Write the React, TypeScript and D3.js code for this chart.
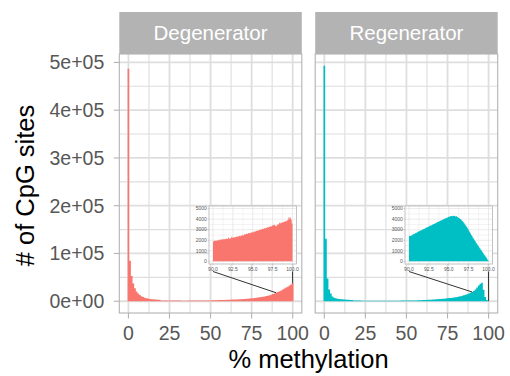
import * as d3 from "d3";

// histogram counts, 1% bins centred on 0..100
const binCenters = d3.range(0, 101);

const degeneratorCounts = [
  487000, 84500, 53000, 37000, 27000, 20500, 16000, 13000, 10500, 8800,
  7400, 6300, 5500, 4900, 4400, 4000, 3700, 3400, 3200, 3000,
  1750, 1650, 1560, 1500, 1450, 1410, 1380, 1350, 1320, 1300,
  1290, 1280, 1270, 1260, 1260, 1250, 1260, 1270, 1280, 1300,
  1320, 1340, 1370, 1400, 1430, 1470, 1510, 1560, 1610, 1670,
  1730, 1800, 1880, 2200, 2300, 2400, 2500, 2600, 2700, 2800,
  2950, 3100, 3250, 3400, 3550, 3700, 3850, 4000, 4200, 4400,
  4600, 4850, 5100, 5400, 5700, 6000, 6300, 6700, 7100, 7600,
  8100, 8700, 9300, 10000, 10800, 11700, 12600, 13700, 14900, 16200,
  17600, 19200, 20900, 22700, 24600, 26500, 28500, 30500, 32700, 35000,
  37500,
];

const regeneratorCounts = [
  493000, 131000, 47500, 24500, 16000, 10000, 7500, 6200, 5400, 4800,
  4300, 3900, 3600, 3400, 3200, 3000, 2800, 2600, 1600, 1500,
  1420, 1350, 1290, 1240, 1200, 1160, 1130, 1100, 1080, 1060,
  1040, 1030, 1020, 1010, 1000, 1000, 1010, 1020, 1030, 1050,
  1070, 1090, 1110, 1140, 1170, 1200, 1240, 1280, 1320, 1370,
  1420, 1470, 1520, 1580, 1640, 1700, 1770, 1850, 2200, 2300,
  2450, 2600, 2750, 2900, 3050, 3250, 3450, 3650, 3900, 4150,
  4450, 4750, 5050, 5400, 5750, 6100, 6500, 6900, 7400, 7900,
  8500, 9100, 9800, 10600, 11500, 12500, 13600, 14800, 16100, 17600,
  19300, 21500, 24500, 28500, 33000, 36500, 38500, 24000, 9000, 2500,
  400,
];

// zoomed insets: 0.1% bins from 90.0 to 100.0
const zoomBinStarts = d3.range(0, 100).map(i => 90 + i / 10);

const degeneratorZoom = [
  1880, 1950, 1920, 1990, 1960, 2010, 1970, 2050, 2000, 2080,
  2040, 2110, 2060, 2130, 2090, 2150, 2100, 2180, 2120, 2260,
  2150, 2200, 2170, 2330, 2240, 2280, 2250, 2310, 2290, 2350,
  2320, 2400, 2360, 2420, 2390, 2470, 2430, 2500, 2460, 2560,
  2520, 2590, 2640, 2600, 2680, 2650, 2710, 2690, 2760, 2730,
  2800, 2770, 2850, 2830, 2900, 2870, 2950, 2920, 3000, 2970,
  3040, 3010, 3100, 3070, 3150, 3120, 3190, 3160, 3240, 3210,
  3290, 3260, 3350, 3310, 3420, 3380, 3470, 3440, 3380, 3330,
  3400, 3550, 3500, 3650, 3600, 3680, 3640, 3720, 3700, 3780,
  3750, 3830, 3800, 3900, 3980, 4200, 4050, 4150, 3950, 3600,
];

const regeneratorZoom = [
  2400, 2420, 2410, 2470, 2520, 2560, 2600, 2650, 2690, 2720,
  2770, 2810, 2850, 2870, 2930, 2950, 3000, 3030, 3060, 3100,
  3140, 3180, 3210, 3260, 3290, 3320, 3370, 3400, 3430, 3480,
  3510, 3550, 3590, 3620, 3660, 3700, 3730, 3780, 3800, 3850,
  3880, 3920, 3960, 3990, 4030, 4070, 4100, 4140, 4170, 4210,
  4250, 4230, 4290, 4310, 4270, 4320, 4300, 4330, 4260, 4290,
  4200, 4190, 4120, 4090, 4010, 3960, 3880, 3810, 3700, 3620,
  3500, 3410, 3290, 3180, 3040, 2910, 2770, 2650, 2500, 2390,
  2250, 2140, 2010, 1900, 1760, 1660, 1530, 1440, 1310, 1220,
  1100, 1000, 870, 780, 650, 560, 430, 340, 210, 100,
];

const panelNames = ["Degenerator", "Regenerator"];
const panelColors = ["#F8766D", "#00BFC4"];

const xTicks = [0, 25, 50, 75, 100];
const xMinor = [12.5, 37.5, 62.5, 87.5];
const yTicks = [0, 100000, 200000, 300000, 400000, 500000];
const yTickLabels = ["0e+00", "1e+05", "2e+05", "3e+05", "4e+05", "5e+05"];
const yMinor = [50000, 150000, 250000, 350000, 450000];

const zoomXTicks = [90, 92.5, 95, 97.5, 100];
const zoomXTickLabels = ["90.0", "92.5", "95.0", "97.5", "100.0"];
const zoomXMinor = [91.25, 93.75, 96.25, 98.75];
const zoomYTicks = [0, 1000, 2000, 3000, 4000, 5000];
const zoomYMinor = [500, 1500, 2500, 3500, 4500];

const FONT = "'Liberation Sans', Arial, Helvetica, sans-serif";
const GRID = "#DEDEDE";
const BORDER = "#B3B3B3";
const TEXT = "#575757";

const W = 510;
const H = 376;
const panelW = 182.5;
const panelLefts = [119.3, 315.2];
const stripTop = 12;
const panelTop = 54;
const panelBottom = 313;

const insetW = 87.5;
const insetH = 58;
const insetLefts = [209, 405];
const insetTop = 206;

function histPath(
  starts: number[],
  width: number,
  counts: number[],
  x: d3.ScaleLinear<number, number>,
  y: d3.ScaleLinear<number, number>
) {
  const p = d3.path();
  const y0 = y(0);
  p.moveTo(x(starts[0]), y0);
  counts.forEach((c, i) => {
    p.lineTo(x(starts[i]), y(c));
    p.lineTo(x(starts[i] + width), y(c));
  });
  p.lineTo(x(starts[starts.length - 1] + width), y0);
  p.closePath();
  return p.toString();
}

function Panel({ idx }: { idx: number }) {
  const left = panelLefts[idx];
  const counts = idx === 0 ? degeneratorCounts : regeneratorCounts;
  const zoom = idx === 0 ? degeneratorZoom : regeneratorZoom;
  const color = panelColors[idx];

  const x = d3.scaleLinear().domain([-5.55, 105.55]).range([left, left + panelW]);
  const y = d3.scaleLinear().domain([-24650, 517650]).range([panelBottom, panelTop]);

  const iLeft = insetLefts[idx];
  const ix = d3.scaleLinear().domain([89.5, 100.5]).range([iLeft, iLeft + insetW]);
  const iy = d3.scaleLinear().domain([-250, 5250]).range([insetTop + insetH, insetTop]);

  const binStarts = binCenters.map(b => b - 0.5);
  const lineStartY = insetTop + insetH + 7.5;

  return (
    <g>
      {/* strip */}
      <rect x={left} y={stripTop} width={panelW} height={panelTop - stripTop} fill="#B3B3B3" />
      <text
        x={left + panelW / 2}
        y={(stripTop + panelTop) / 2}
        dy="0.36em"
        textAnchor="middle"
        fill="#FFFFFF"
        fontSize={20.5}
        fontFamily={FONT}
      >
        {panelNames[idx]}
      </text>

      {/* panel */}
      <rect x={left} y={panelTop} width={panelW} height={panelBottom - panelTop} fill="#FFFFFF" />
      {yMinor.map(v => (
        <line key={"ym" + v} x1={left} x2={left + panelW} y1={y(v)} y2={y(v)} stroke={GRID} strokeWidth={1.1} />
      ))}
      {xMinor.map(v => (
        <line key={"xm" + v} x1={x(v)} x2={x(v)} y1={panelTop} y2={panelBottom} stroke={GRID} strokeWidth={1.1} />
      ))}
      {yTicks.map(v => (
        <line key={"yM" + v} x1={left} x2={left + panelW} y1={y(v)} y2={y(v)} stroke={GRID} strokeWidth={1.8} />
      ))}
      {xTicks.map(v => (
        <line key={"xM" + v} x1={x(v)} x2={x(v)} y1={panelTop} y2={panelBottom} stroke={GRID} strokeWidth={1.8} />
      ))}
      <path d={histPath(binStarts, 1, counts, x, y)} fill={color} />
      <rect
        x={left}
        y={panelTop}
        width={panelW}
        height={panelBottom - panelTop}
        fill="none"
        stroke={BORDER}
        strokeWidth={1.1}
      />

      {/* x axis */}
      {xTicks.map(v => (
        <g key={"xt" + v}>
          <line x1={x(v)} x2={x(v)} y1={panelBottom} y2={panelBottom + 5.5} stroke={BORDER} strokeWidth={1.1} />
          <text x={x(v)} y={340} textAnchor="middle" fill={TEXT} fontSize={19.5} fontFamily={FONT}>
            {v}
          </text>
        </g>
      ))}

      {/* connectors from inset to main histogram */}
      <line
        x1={ix(90)}
        y1={lineStartY}
        x2={x(90)}
        y2={y(counts[90])}
        stroke="#333333"
        strokeWidth={1}
      />
      <line
        x1={ix(100)}
        y1={lineStartY}
        x2={x(100)}
        y2={y(counts[100])}
        stroke="#333333"
        strokeWidth={1}
      />

      {/* inset */}
      <rect x={iLeft} y={insetTop} width={insetW} height={insetH} fill="#FFFFFF" />
      {zoomYMinor.map(v => (
        <line key={"iym" + v} x1={iLeft} x2={iLeft + insetW} y1={iy(v)} y2={iy(v)} stroke={GRID} strokeWidth={0.35} />
      ))}
      {zoomXMinor.map(v => (
        <line key={"ixm" + v} x1={ix(v)} x2={ix(v)} y1={insetTop} y2={insetTop + insetH} stroke={GRID} strokeWidth={0.35} />
      ))}
      {zoomYTicks.map(v => (
        <line key={"iyM" + v} x1={iLeft} x2={iLeft + insetW} y1={iy(v)} y2={iy(v)} stroke={GRID} strokeWidth={0.6} />
      ))}
      {zoomXTicks.map(v => (
        <line key={"ixM" + v} x1={ix(v)} x2={ix(v)} y1={insetTop} y2={insetTop + insetH} stroke={GRID} strokeWidth={0.6} />
      ))}
      <path d={histPath(zoomBinStarts, 0.1, zoom, ix, iy)} fill={color} />
      <rect
        x={iLeft}
        y={insetTop}
        width={insetW}
        height={insetH}
        fill="none"
        stroke={BORDER}
        strokeWidth={0.8}
      />
      {zoomYTicks.map(v => (
        <g key={"iyt" + v}>
          <line x1={iLeft - 1.5} x2={iLeft} y1={iy(v)} y2={iy(v)} stroke={BORDER} strokeWidth={0.5} />
          <text
            x={iLeft - 2.2}
            y={iy(v)}
            dy="0.35em"
            textAnchor="end"
            fill={TEXT}
            fontSize={5}
            fontFamily={FONT}
          >
            {v}
          </text>
        </g>
      ))}
      {zoomXTicks.map((v, i) => (
        <g key={"ixt" + v}>
          <line
            x1={ix(v)}
            x2={ix(v)}
            y1={insetTop + insetH}
            y2={insetTop + insetH + 1.5}
            stroke={BORDER}
            strokeWidth={0.5}
          />
          <text
            x={ix(v)}
            y={insetTop + insetH + 7}
            textAnchor="middle"
            fill={TEXT}
            fontSize={5}
            fontFamily={FONT}
          >
            {zoomXTickLabels[i]}
          </text>
        </g>
      ))}
    </g>
  );
}

export default function App() {
  const y = d3.scaleLinear().domain([-24650, 517650]).range([panelBottom, panelTop]);
  const left = panelLefts[0];
  return (
    <svg
      width={W}
      height={H}
      style={{ position: "absolute", left: 0, top: 0, background: "#FFFFFF" }}
    >
      <rect width={W} height={H} fill="#FFFFFF" />
      {panelNames.map((_, i) => (
        <Panel key={i} idx={i} />
      ))}

      {/* y axis */}
      {yTicks.map((v, i) => (
        <g key={"yt" + v}>
          <line x1={left - 5.5} x2={left} y1={y(v)} y2={y(v)} stroke={BORDER} strokeWidth={1.1} />
          <text
            x={left - 15}
            y={y(v)}
            dy="0.36em"
            textAnchor="end"
            fill={TEXT}
            fontSize={19.5}
            fontFamily={FONT}
          >
            {yTickLabels[i]}
          </text>
        </g>
      ))}

      {/* axis titles */}
      <text
        x={(panelLefts[0] + panelLefts[1] + panelW) / 2}
        y={368}
        textAnchor="middle"
        fill="#000000"
        fontSize={25.5}
        fontFamily={FONT}
      >
        % methylation
      </text>
      <text
        transform={`translate(34, ${(panelTop + panelBottom) / 2 + 2}) rotate(-90)`}
        textAnchor="middle"
        fill="#000000"
        fontSize={25.5}
        fontFamily={FONT}
      >
        # of CpG sites
      </text>
    </svg>
  );
}
